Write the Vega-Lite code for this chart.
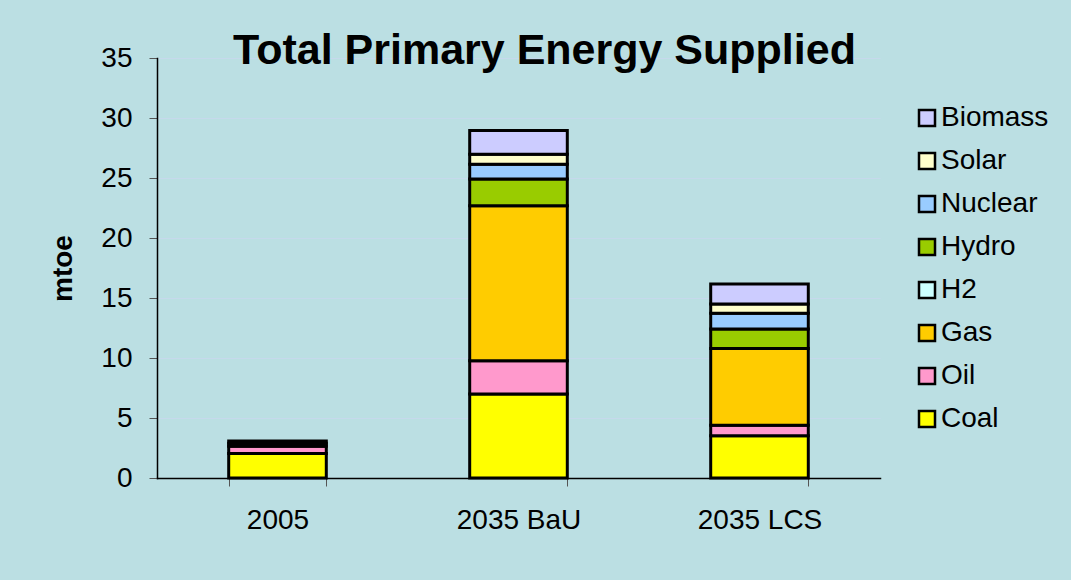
{
  "$schema": "https://vega.github.io/schema/vega-lite/v6.json",
  "autosize": "none",
  "width": 723,
  "height": 420,
  "padding": {"left": 157, "top": 58, "right": 191, "bottom": 102},
  "background": "#BBDFE3",
  "title": {
    "text": "Total Primary Energy Supplied",
    "font": "Liberation Sans",
    "fontSize": 43,
    "fontWeight": "bold",
    "color": "#000000",
    "anchor": "middle",
    "frame": "group",
    "baseline": "alphabetic",
    "offset": -63,
    "dx": 26
  },
  "data": {
    "values": [
      {"scenario": "2005", "source": "Coal", "k": 1, "mtoe": 2.05},
      {"scenario": "2005", "source": "Oil", "k": 2, "mtoe": 0.6},
      {"scenario": "2005", "source": "Gas", "k": 3, "mtoe": 0.25},
      {"scenario": "2005", "source": "Hydro", "k": 5, "mtoe": 0.18},
      {"scenario": "2035 BaU", "source": "Coal", "k": 1, "mtoe": 7.0},
      {"scenario": "2035 BaU", "source": "Oil", "k": 2, "mtoe": 2.78},
      {"scenario": "2035 BaU", "source": "Gas", "k": 3, "mtoe": 12.9},
      {"scenario": "2035 BaU", "source": "Hydro", "k": 5, "mtoe": 2.23},
      {"scenario": "2035 BaU", "source": "Nuclear", "k": 6, "mtoe": 1.24},
      {"scenario": "2035 BaU", "source": "Solar", "k": 7, "mtoe": 0.83},
      {"scenario": "2035 BaU", "source": "Biomass", "k": 8, "mtoe": 1.97},
      {"scenario": "2035 LCS", "source": "Coal", "k": 1, "mtoe": 3.53},
      {"scenario": "2035 LCS", "source": "Oil", "k": 2, "mtoe": 0.86},
      {"scenario": "2035 LCS", "source": "Gas", "k": 3, "mtoe": 6.41},
      {"scenario": "2035 LCS", "source": "Hydro", "k": 5, "mtoe": 1.62},
      {"scenario": "2035 LCS", "source": "Nuclear", "k": 6, "mtoe": 1.3},
      {"scenario": "2035 LCS", "source": "Solar", "k": 7, "mtoe": 0.78},
      {"scenario": "2035 LCS", "source": "Biomass", "k": 8, "mtoe": 1.67}
    ]
  },
  "mark": {"type": "bar", "stroke": "#000000", "strokeWidth": 3},
  "encoding": {
    "x": {
      "field": "scenario",
      "type": "nominal",
      "sort": ["2005", "2035 BaU", "2035 LCS"],
      "scale": {"paddingInner": 0.595, "paddingOuter": 0.2975},
      "axis": {
        "title": null,
        "labelAngle": 0,
        "labelFont": "Liberation Sans",
        "labelFontSize": 28,
        "labelColor": "#000000",
        "labelPadding": 20,
        "tickBand": "extent",
        "tickSize": 8,
        "tickColor": "#555555",
        "domainColor": "#000000",
        "domainWidth": 1.5,
        "grid": false
      }
    },
    "y": {
      "field": "mtoe",
      "type": "quantitative",
      "stack": "zero",
      "scale": {"domain": [0, 35], "nice": false},
      "axis": {
        "title": "mtoe",
        "titleFont": "Liberation Sans",
        "titleFontSize": 28,
        "titleFontWeight": "bold",
        "titleColor": "#000000",
        "titlePadding": 23,
        "values": [0, 5, 10, 15, 20, 25, 30, 35],
        "labelFont": "Liberation Sans",
        "labelFontSize": 28,
        "labelColor": "#000000",
        "labelPadding": 17,
        "tickSize": 8,
        "tickColor": "#555555",
        "domainColor": "#000000",
        "domainWidth": 1.5,
        "grid": true,
        "gridColor": "#C6D9EC",
        "gridWidth": 1
      }
    },
    "color": {
      "field": "source",
      "type": "nominal",
      "scale": {
        "domain": ["Biomass", "Solar", "Nuclear", "Hydro", "H2", "Gas", "Oil", "Coal"],
        "range": ["#CCCCFF", "#FFFFCC", "#99CCFF", "#99CC00", "#CCFFFF", "#FFCC00", "#FF99CC", "#FFFF00"]
      },
      "legend": {
        "title": null,
        "orient": "none",
        "legendX": 756,
        "legendY": 46,
        "padding": 0,
        "symbolType": "square",
        "symbolSize": 256,
        "symbolStrokeColor": "#000000",
        "symbolStrokeWidth": 2.5,
        "symbolOpacity": 1,
        "labelFont": "Liberation Sans",
        "labelFontSize": 28,
        "labelColor": "#000000",
        "labelOffset": 0,
        "rowPadding": 15
      }
    },
    "order": {"field": "k", "type": "quantitative", "sort": "ascending"}
  },
  "config": {
    "view": {"stroke": null},
    "axis": {"domainCap": "square"}
  }
}
